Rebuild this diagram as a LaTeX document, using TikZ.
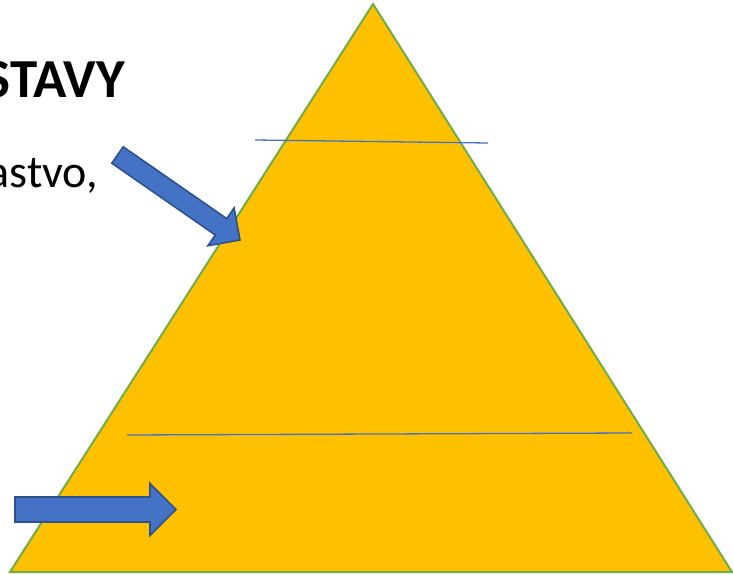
\documentclass[tikz,border=0pt]{standalone}
\usepackage{fontspec}
\setmainfont{Carlito}
\definecolor{pyrfill}{HTML}{FFC000}
\definecolor{pyredge}{HTML}{70AD47}
\definecolor{arrfill}{HTML}{4472C4}
\definecolor{arredge}{HTML}{2F528F}
\definecolor{lvl}{HTML}{4472C4}
\tikzset{
  pyramid/.style={fill=pyrfill, draw=pyredge, line width=2pt, line join=miter},
  blockarrow/.style={fill=arrfill, draw=arredge, line width=1.6pt, line join=miter},
  levelline/.style={draw=lvl, line width=1.3pt},
  titletext/.style={font=\fontsize{55}{62}\selectfont\bfseries, anchor=base east, inner sep=0pt},
  bodytext/.style={font=\fontsize{46}{52}\selectfont, anchor=base east, inner sep=0pt}
}
\begin{document}
\begin{tikzpicture}[x=1pt,y=-1pt]
\useasboundingbox (0,0) rectangle (733,575);
\begin{scope}
\clip (0,0) rectangle (733,575);
\fill[white] (0,0) rectangle (733,575);
% pyramid
\draw[pyramid] (373,4) -- (732,572) -- (10,572) -- cycle;
% level lines
\coordinate (l1a) at (255,140);
\coordinate (l1b) at (488,143);
\coordinate (l2a) at (127,435);
\coordinate (l2b) at (632,433);
\draw[levelline] (l1a) -- (l1b);
\draw[levelline] (l2a) -- (l2b);
% texts (cut at the left edge, as in the reference)
\node[titletext] (title) at (125,98) {STAVY};
\node[bodytext] (body) at (98,187) {astvo,};
% diagonal block arrow
\draw[blockarrow] (111.8,163.2) -- (215.3,235.0) -- (207.9,245.7) -- (240,240)
  -- (234.1,207.9) -- (226.7,218.6) -- (123.2,146.8) -- cycle;
% horizontal block arrow
\draw[blockarrow] (15,497) -- (150,497) -- (150,483.5) -- (176,509.5)
  -- (150,535.5) -- (150,522) -- (15,522) -- cycle;
\end{scope}
\end{tikzpicture}
\end{document}
